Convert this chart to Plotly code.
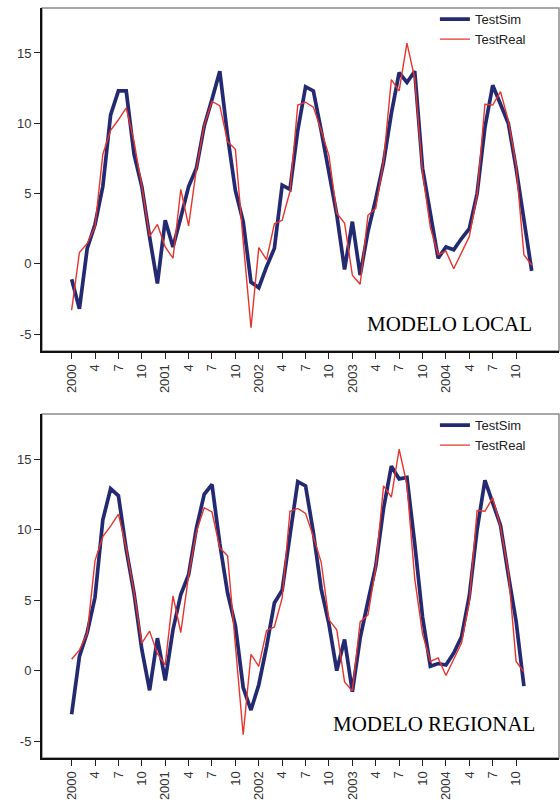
import plotly.graph_objects as go
from plotly.subplots import make_subplots

# ---- data (monthly, Jan 2000 .. Dec 2004) ----
tick_labels = ["2000", "4", "7", "10", "2001", "4", "7", "10", "2002", "4", "7", "10",
               "2003", "4", "7", "10", "2004", "4", "7", "10"]
tick_positions = list(range(0, 60, 3))

sim_local = [-1.1, -3.2, 1.1, 2.8, 5.5, 10.6, 12.3, 12.3, 7.8, 5.5, 1.9, -1.4,
             3.1, 1.2, 3.3, 5.5, 6.8, 9.8, 11.7, 13.7, 9.1, 5.2, 3.0, -1.3,
             -1.7, -0.2, 1.1, 5.6, 5.3, 9.5, 12.6, 12.3, 9.5, 6.5, 3.5, -0.4,
             3.0, -0.8, 2.3, 4.6, 7.2, 10.7, 13.6, 12.9, 13.7, 6.8, 3.5, 0.4,
             1.2, 1.0, 1.8, 2.5, 5.0, 9.7, 12.7, 11.3, 10.0, 6.8, 3.3, -0.5]

real_local = [-3.3, 0.8, 1.45, 2.65, 7.8, 9.5, 10.25, 11.1, 8.7, 5.55, 1.95, 2.8,
              1.2, 0.4, 5.3, 2.7, 6.75, 9.85, 11.55, 11.25, 8.7, 8.15, 1.6, -4.55,
              1.15, 0.3, 2.85, 3.1, 5.15, 11.3, 11.5, 11.15, 9.5, 7.7, 3.6, 2.9,
              -0.8, -1.45, 3.45, 3.95, 7.3, 13.1, 12.3, 15.7, 13.2, 6.5, 2.6, 0.65,
              0.9, -0.35, 0.8, 1.95, 4.9, 11.35, 11.3, 12.25, 10.2, 7.0, 0.65, -0.1]

sim_regional = [-3.1, 1.0, 2.7, 5.2, 10.7, 12.9, 12.4, 8.6, 5.5, 1.5, -1.4, 2.3,
                -0.7, 2.9, 5.4, 6.8, 10.1, 12.5, 13.2, 9.0, 5.5, 3.2, -1.2, -2.8,
                -1.0, 1.7, 4.8, 5.7, 9.6, 13.4, 13.1, 9.8, 5.8, 3.3, 0.0, 2.2,
                -1.5, 2.3, 4.9, 7.4, 11.5, 14.5, 13.6, 13.7, 9.0, 3.8, 0.3, 0.5,
                0.4, 1.25, 2.4, 5.3, 10.0, 13.5, 11.9, 10.3, 6.8, 3.5, -1.1]

real_regional = [0.8, 1.45, 2.65, 7.8, 9.5, 10.25, 11.1, 8.7, 5.55, 1.95, 2.8,
                 1.2, 0.4, 5.3, 2.7, 6.75, 9.85, 11.55, 11.25, 8.7, 8.15, 1.6, -4.55,
                 1.15, 0.3, 2.85, 3.1, 5.15, 11.3, 11.5, 11.15, 9.5, 7.7, 3.6, 2.9,
                 -0.8, -1.45, 3.45, 3.95, 7.3, 13.1, 12.3, 15.7, 13.2, 6.5, 2.6, 0.65,
                 0.9, -0.35, 0.8, 1.95, 4.9, 11.35, 11.3, 12.25, 10.2, 7.0, 0.65, -0.1]

panel_titles = ["MODELO LOCAL", "MODELO REGIONAL"]

# ---- styles ----
SIM_COLOR = "#232a72"
REAL_COLOR = "#e8342c"
FONT = "Liberation Sans, Arial, sans-serif"

H_TOTAL = 802
M_T, M_B = 8, 44
PLOT_H = H_TOTAL - M_T - M_B
top_dom = [(758 - 351) / PLOT_H, 1.0]
bot_dom = [0.0, (758 - 414) / PLOT_H]

fig = make_subplots(rows=2, cols=1, shared_xaxes=False)

panels = [(sim_local, real_local, "legend", 1), (sim_regional, real_regional, "legend2", 2)]
for sim, real, leg, row in panels:
    fig.add_trace(go.Scatter(x=list(range(len(sim))), y=sim, mode="lines", name="TestSim",
                             line=dict(color=SIM_COLOR, width=3.7), legend=leg), row=row, col=1)
    fig.add_trace(go.Scatter(x=list(range(len(real))), y=real, mode="lines", name="TestReal",
                             line=dict(color=REAL_COLOR, width=1.4), legend=leg), row=row, col=1)

axis_common = dict(showgrid=False, zeroline=False, showline=True, linecolor="#111",
                   linewidth=2, ticks="outside", ticklen=6, tickwidth=1, tickcolor="#222",
                   tickfont=dict(family=FONT, size=13, color="#333"))

for ax in ["xaxis", "xaxis2"]:
    fig.layout[ax].update(range=[-3.8, 62.5], tickmode="array", tickvals=tick_positions,
                          ticktext=tick_labels, tickangle=-90, **axis_common)
for ax in ["yaxis", "yaxis2"]:
    fig.layout[ax].update(range=[-6.2, 18.2], tickmode="array", tickvals=[-5, 0, 5, 10, 15],
                          ticktext=["-5", "0", "5", "10", "15"], **axis_common)

fig.layout.yaxis.domain = top_dom
fig.layout.yaxis2.domain = bot_dom

# grey frame
for xr, yr in [("x domain", "y domain"), ("x2 domain", "y2 domain")]:
    fig.add_shape(type="rect", xref=xr, yref=yr, x0=0, x1=1, y0=0, y1=1,
                  line=dict(color="#8a8a8a", width=1.5), layer="below")

# panel titles
serif = dict(family="Liberation Serif, Times New Roman, serif", size=21, color="#000")
fig.add_annotation(text=panel_titles[0], xref="x domain", yref="y domain", x=0.951, y=0.08,
                   xanchor="right", yanchor="middle", showarrow=False, font=serif)
fig.add_annotation(text=panel_titles[1], xref="x2 domain", yref="y2 domain", x=0.957, y=0.098,
                   xanchor="right", yanchor="middle", showarrow=False, font=serif)

leg_style = dict(xanchor="left", yanchor="top", bgcolor="rgba(0,0,0,0)",
                 font=dict(family=FONT, size=13, color="#222"), tracegroupgap=0,
                 itemwidth=30)
fig.update_layout(
    width=560, height=H_TOTAL,
    margin=dict(l=42, r=1, t=M_T, b=M_B),
    paper_bgcolor="white", plot_bgcolor="white",
    showlegend=True,
    legend=dict(x=0.76, y=1.005, **leg_style),
    legend2=dict(x=0.76, y=bot_dom[1] + 0.005, **leg_style),
)

fig.write_html("out.html", config={"displayModeBar": False},
               post_script="document.body.style.margin='0';document.body.style.overflow='hidden';")
